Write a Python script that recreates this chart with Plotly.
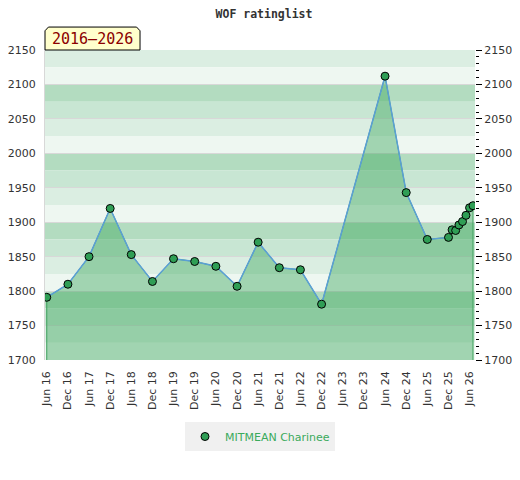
import plotly.graph_objects as go

# rating list data -----------------------------------------------
dates = ['2016-06-01', '2016-12-01', '2017-06-01', '2017-12-01', '2018-06-01',
         '2018-12-01', '2019-06-01', '2019-12-01', '2020-06-01', '2020-12-01',
         '2021-06-01', '2021-12-01', '2022-06-01', '2022-12-01', '2024-06-01',
         '2024-12-01', '2025-06-01', '2025-12-01', '2026-01-01', '2026-02-01',
         '2026-03-01', '2026-04-01', '2026-05-01', '2026-06-01', '2026-07-01']
ratings = [1791, 1810, 1850, 1920, 1853, 1814, 1847, 1843, 1836, 1807,
           1871, 1834, 1831, 1781, 2112, 1943, 1875, 1878, 1889, 1888,
           1896, 1901, 1910, 1921, 1924]
player = 'MITMEAN Charinee'
period = '2016–2026'
y_min, y_max = 1700, 2150

band_colors = ['#dbeee2', '#eef7f1', '#b3dcc0', '#c8e6d3']

fig = go.Figure()

# filled area down to the axis floor
fig.add_trace(go.Scatter(
    x=[dates[0]] + dates + [dates[-1]],
    y=[y_min] + ratings + [y_min],
    fill='toself', fillcolor='rgba(54,165,89,0.42)',
    line=dict(color='#3a9f5a', width=1),
    mode='lines', hoverinfo='skip', showlegend=False))

fig.add_trace(go.Scatter(
    x=dates, y=ratings, mode='lines',
    line=dict(color='#5b9fd6', width=1.5),
    showlegend=False))

fig.add_trace(go.Scatter(
    x=dates, y=ratings, mode='markers', name=player,
    marker=dict(color='#2f9e55', size=8, line=dict(color='black', width=1))))

# dummy trace so the right axis is drawn
fig.add_trace(go.Scatter(x=[dates[0]], y=[y_min], yaxis='y2',
                         mode='markers', marker=dict(opacity=0),
                         showlegend=False, hoverinfo='skip'))

# horizontal colour bands, 25 points each
shapes = []
level = y_max
i = 0
while level > y_min:
    shapes.append(dict(type='rect', xref='paper', yref='y', x0=0, x1=1,
                       y0=level - 25, y1=level, layer='below',
                       fillcolor=band_colors[i % 4], line=dict(width=0)))
    level -= 25
    i += 1

# period label box with clipped top corners
shapes.append(dict(type='path', xref='paper', yref='paper', layer='above',
                   path='M 0 1 L 0 1.062 L 0.008 1.074 L 0.213 1.074 '
                        'L 0.221 1.062 L 0.221 1 Z',
                   fillcolor='#ffffcc', line=dict(color='black', width=1)))

# page body adds an 8px offset, so the figure is 8px smaller
fig.update_layout(
    width=512, height=472,
    margin=dict(l=37, r=45, t=42, b=120, autoexpand=False),
    paper_bgcolor='white', plot_bgcolor='white',
    shapes=shapes,
    title=dict(text='<b>WOF ratinglist</b>', x=0.5, xanchor='center',
               y=0.987, yanchor='middle',
               font=dict(family='DejaVu Sans Mono', size=11.5, color='#333')),
    font=dict(family='DejaVu Sans', size=11, color='#333'),
    xaxis=dict(type='date', range=['2016-05-17', '2026-07-18'],
               tick0='2016-06-01', dtick='M6', tickformat='%b %y',
               tickangle=-90, showgrid=False, zeroline=False,
               showline=False, ticks='', automargin=False,
               ticklabelstandoff=8),
    yaxis=dict(range=[y_min, y_max], dtick=50, showgrid=True,
               gridcolor='#d8d8d8', gridwidth=1, zeroline=False,
               showline=True, linecolor='#d8d8d8', ticks='',
               automargin=False, ticklabelstandoff=6),
    yaxis2=dict(range=[y_min, y_max], overlaying='y', side='right',
                dtick=50, showgrid=False, zeroline=False,
                ticks='outside', ticklen=6, tickcolor='black',
                automargin=False,
                minor=dict(dtick=10, ticks='outside', ticklen=3,
                           tickcolor='black')),
    legend=dict(orientation='h', x=0.5, xanchor='center', y=-0.2,
                yanchor='top', bgcolor='#f0f0f0', itemwidth=30,
                font=dict(color='#3aaa5c', size=11)),
    annotations=[dict(text=period, xref='paper', yref='paper',
                      x=0.11, y=1.037, xanchor='center', yanchor='middle',
                      showarrow=False,
                      font=dict(family='DejaVu Sans Mono', size=15,
                                color='#8b0000'))],
)

fig.write_html("out.html")
